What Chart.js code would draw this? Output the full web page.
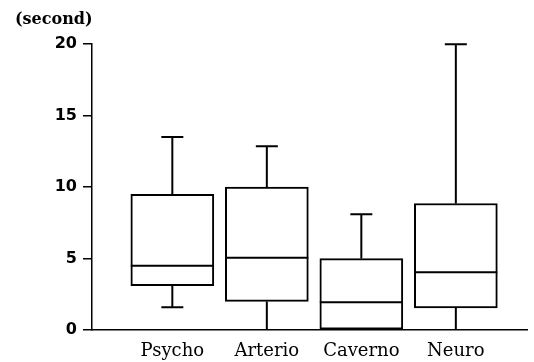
<!DOCTYPE html>
<html>
<head>
<meta charset="utf-8">
<script src="https://cdn.jsdelivr.net/npm/chart.js@4"></script>
<style>
  html, body { margin: 0; padding: 0; background: #fff; }
  #wrap { width: 534px; height: 362px; }
</style>
</head>
<body>
<div id="wrap"><canvas id="myChart"></canvas></div>
<script>
// box plot values (seconds)
const categories = ['Psycho', 'Arterio', 'Caverno', 'Neuro']
const whiskerLow = [1.6, 0, 0, 0]
const q1 = [3.1, 2.0, 0, 1.55]
const median = [4.5, 5.05, 1.95, 4.05]
const q3 = [9.5, 10.0, 5.0, 8.85]
const whiskerHigh = [13.5, 12.85, 8.1, 20]

const ctx = document.getElementById('myChart');

// whiskers, caps and median lines drawn on top of the floating bars
const boxExtras = {
  id: 'boxExtras',
  afterDatasetsDraw(chart) {
    const c = chart.ctx
    const xs = chart.scales.x
    const ys = chart.scales.y
    const meta = chart.getDatasetMeta(0)
    c.save()
    c.strokeStyle = '#000'
    c.lineWidth = 2
    categories.forEach((cat, i) => {
      const bar = meta.data[i]
      const x = xs.getPixelForValue(i)
      const half = bar.width / 2
      const capHalf = 11
      c.beginPath()
      // median
      c.moveTo(x - half, ys.getPixelForValue(median[i]))
      c.lineTo(x + half, ys.getPixelForValue(median[i]))
      // upper whisker
      c.moveTo(x, ys.getPixelForValue(q3[i]))
      c.lineTo(x, ys.getPixelForValue(whiskerHigh[i]))
      c.moveTo(x - capHalf, ys.getPixelForValue(whiskerHigh[i]))
      c.lineTo(x + capHalf, ys.getPixelForValue(whiskerHigh[i]))
      // lower whisker (no cap when it runs down onto the axis)
      c.moveTo(x, ys.getPixelForValue(q1[i]))
      c.lineTo(x, ys.getPixelForValue(whiskerLow[i]))
      if (whiskerLow[i] > 0) {
        c.moveTo(x - capHalf, ys.getPixelForValue(whiskerLow[i]))
        c.lineTo(x + capHalf, ys.getPixelForValue(whiskerLow[i]))
      }
      c.stroke()
    })
    c.restore()
  }
}

new Chart(ctx, {
  type: 'bar',
  data: {
    datasets: [{
      data: categories.map((c, i) => ({ x: i, y: [q1[i], q3[i]] })),
      backgroundColor: '#fff',
      borderColor: '#000',
      borderWidth: 2,
      borderSkipped: false,
      barThickness: 83
    }]
  },
  options: {
    responsive: true,
    maintainAspectRatio: false,
    animation: false,
    layout: { padding: { left: 15, right: 7, top: 0, bottom: 0 } },
    plugins: {
      legend: { display: false },
      tooltip: { enabled: false },
      title: {
        display: true,
        text: '(second)',
        align: 'start',
        color: '#000',
        font: { family: 'DejaVu Serif', weight: 'bold', size: 16 },
        padding: { top: 10, bottom: 15 }
      }
    },
    scales: {
      x: {
        type: 'linear',
        offset: false,
        min: -0.85,
        max: 3.753,
        grid: { display: false, offset: false },
        border: { display: true, color: '#000', width: 1.5 },
        afterBuildTicks: s => { s.ticks = categories.map((c, i) => ({ value: i })) },
        afterFit: s => { s.height = 32 },
        ticks: {
          autoSkip: false,
          maxRotation: 0,
          padding: 3,
          color: '#000',
          font: { family: 'DejaVu Serif', size: 18 },
          callback: v => categories[v]
        }
      },
      y: {
        min: 0,
        max: 20,
        afterFit: s => { s.width = 77 },
        grid: { drawOnChartArea: false, drawTicks: true, tickLength: 9, color: '#000', lineWidth: 1.5 },
        border: { display: true, color: '#000', width: 1.5 },
        ticks: {
          stepSize: 5,
          padding: 6,
          color: '#000',
          font: { family: 'DejaVu Sans', weight: 'bold', size: 16 }
        }
      }
    }
  },
  plugins: [boxExtras]
});
</script>
</body>
</html>
